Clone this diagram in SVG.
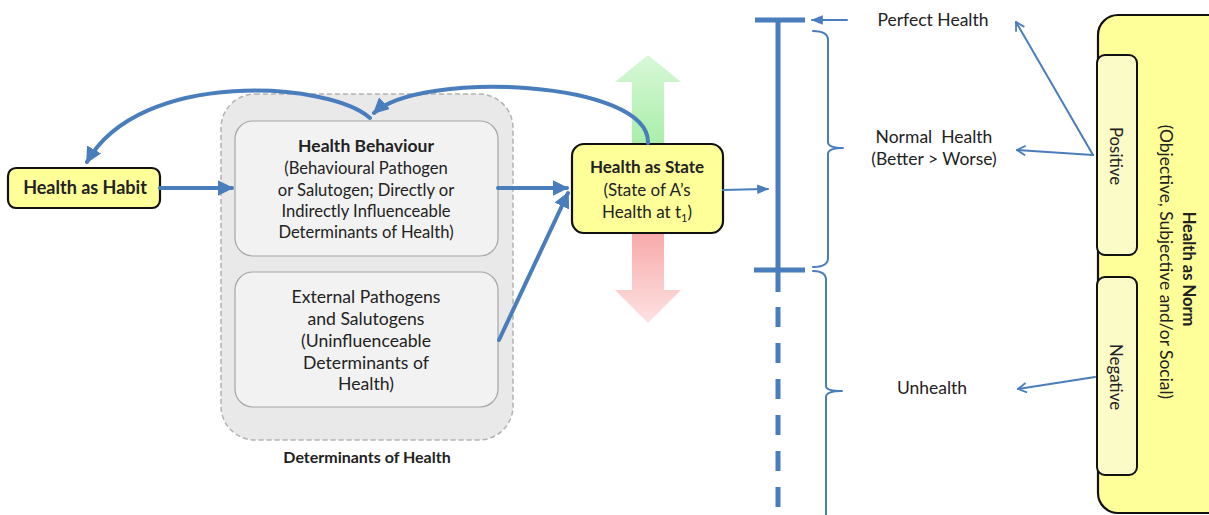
<svg xmlns="http://www.w3.org/2000/svg" width="1209" height="515" viewBox="0 0 1209 515">
  <style>
    text { font-family: Lato, "Liberation Sans", sans-serif; fill: #222; }
    .b { font-weight: bold; }
    .mid { text-anchor: middle; }
    .yellow { fill: #ffff99; stroke: #111; stroke-width: 2.2; }
    .soft { fill: #fbfbc8; stroke: #111; stroke-width: 2; }
    .inner { fill: #f2f2f2; stroke: #a6a6a6; stroke-width: 1.2; }
    .conn { fill: none; stroke: #4a7dbb; stroke-linecap: round; }
    .thick { stroke-width: 4; }
    .thin { stroke-width: 2; }
  </style>
  <defs>
    <marker id="headBig" viewBox="0 0 10 10" refX="9" refY="5" markerWidth="4" markerHeight="4" orient="auto" markerUnits="strokeWidth">
      <path d="M0,0 L10,5 L0,10 z" fill="#4a7dbb"/>
    </marker>
    <marker id="headOpen" viewBox="0 0 10 10" refX="9" refY="5" markerWidth="6" markerHeight="6" orient="auto" markerUnits="strokeWidth">
      <path d="M2,1 L9,5 L2,9" fill="none" stroke="#4a7dbb" stroke-width="1.5"/>
    </marker>
    <marker id="headSmall" viewBox="0 0 10 10" refX="9" refY="5" markerWidth="6" markerHeight="6" orient="auto" markerUnits="strokeWidth">
      <path d="M0,1 L10,5 L0,9 z" fill="#4a7dbb"/>
    </marker>
    <linearGradient id="gUp" x1="0" y1="0" x2="0" y2="1">
      <stop offset="0" stop-color="#d8f8d8"/>
      <stop offset="1" stop-color="#a9eea9"/>
    </linearGradient>
    <linearGradient id="gDown" x1="0" y1="0" x2="0" y2="1">
      <stop offset="0" stop-color="#f8a9a9"/>
      <stop offset="1" stop-color="#fde2e2"/>
    </linearGradient>
  </defs>

  <!-- direction arrows behind the state box -->
  <g id="better-arrow">
    <path d="M632,145 V82 H615 L648,55 L681,82 H664 V145 z" fill="url(#gUp)"/>
  </g>
  <g id="worse-arrow">
    <path d="M632,232 V290 H615 L648,323 L681,290 H664 V232 z" fill="url(#gDown)"/>
  </g>

  <!-- determinants group -->
  <g id="determinants">
    <rect x="221" y="94" width="292" height="346" rx="34" fill="#e9e9e9" stroke="#b3b3b3" stroke-width="1.5" stroke-dasharray="5 3"/>
    <text class="b mid" x="367" y="463" font-size="16">Determinants of Health</text>
  </g>

  <g id="health-behaviour">
    <rect class="inner" x="235" y="121" width="263" height="135" rx="18"/>
    <text class="b mid" x="366" y="152" font-size="17.5">Health Behaviour</text>
    <text class="mid" x="366" y="174" font-size="16.6">(Behavioural Pathogen</text>
    <text class="mid" x="366" y="196" font-size="16.6">or Salutogen; Directly or</text>
    <text class="mid" x="366" y="217" font-size="16.6">Indirectly Influenceable</text>
    <text class="mid" x="366" y="238" font-size="16.6">Determinants of Health)</text>
  </g>

  <g id="external">
    <rect class="inner" x="235" y="272" width="263" height="135" rx="18"/>
    <text class="mid" x="366" y="303" font-size="17.6">External Pathogens</text>
    <text class="mid" x="366" y="325" font-size="17.6">and Salutogens</text>
    <text class="mid" x="366" y="347" font-size="17.6">(Uninfluenceable</text>
    <text class="mid" x="366" y="369" font-size="17.6">Determinants of</text>
    <text class="mid" x="366" y="390" font-size="17.6">Health)</text>
  </g>

  <g id="health-as-habit">
    <rect class="yellow" x="8" y="168" width="152" height="40" rx="8"/>
    <text class="b mid" x="85" y="194" font-size="18">Health as Habit</text>
  </g>

  <g id="health-as-state">
    <rect class="yellow" x="572" y="144" width="151" height="89" rx="12"/>
    <text class="b mid" x="647" y="173" font-size="17">Health as State</text>
    <text class="mid" x="647" y="196" font-size="17">(State of A’s</text>
    <text class="mid" x="647" y="218" font-size="17">Health at t<tspan font-size="11" dy="4">1</tspan><tspan dy="-4">)</tspan></text>
  </g>

  <g id="health-as-norm">
    <rect class="yellow" x="1098" y="15" width="130" height="498" rx="20"/>
    <rect class="soft" x="1097" y="55" width="40" height="200" rx="8"/>
    <rect class="soft" x="1097" y="277" width="40" height="198" rx="8"/>
    <g transform="translate(1116,156) rotate(90)">
      <text class="mid" x="0" y="6" font-size="16.8">Positive</text>
    </g>
    <g transform="translate(1116,377) rotate(90)">
      <text class="mid" x="0" y="6" font-size="16.8">Negative</text>
    </g>
    <g transform="translate(1189,269) rotate(90)">
      <text class="b mid" x="0" y="6" font-size="16.5">Health as Norm</text>
    </g>
    <g transform="translate(1166,262) rotate(90)">
      <text class="mid" x="0" y="6" font-size="17.4">(Objective, Subjective and/or Social)</text>
    </g>
  </g>

  <!-- health scale -->
  <g id="scale">
    <line x1="755" y1="20" x2="805" y2="20" stroke="#4a7dbb" stroke-width="5"/>
    <line x1="778" y1="20" x2="778" y2="292" stroke="#4a7dbb" stroke-width="5"/>
    <line x1="754" y1="270" x2="805" y2="270" stroke="#4a7dbb" stroke-width="5"/>
    <line x1="778" y1="307" x2="778" y2="510" stroke="#4a7dbb" stroke-width="5" stroke-dasharray="20 16"/>
    <path class="conn thin" d="M813,31 Q828,31 828,40 V142 Q828,148 843,148 M843,148 Q828,148 828,154 V258 Q828,267 813,267"/>
    <path class="conn thin" d="M813,271 Q826,271 826,280 V386 Q826,391 842,391 M842,391 Q826,391 826,397 V515"/>
  </g>

  <g id="levels">
    <text class="mid" x="933" y="26" font-size="17.5">Perfect Health</text>
    <text class="mid" x="934" y="143" font-size="17.5" xml:space="preserve">Normal  Health</text>
    <text class="mid" x="934" y="165" font-size="17.5">(Better &gt; Worse)</text>
    <text class="mid" x="932" y="394" font-size="17.5">Unhealth</text>
  </g>

  <!-- connectors -->
  <g id="connectors">
    <path class="conn thick" d="M160,188 H232" marker-end="url(#headBig)"/>
    <path class="conn thick" d="M370,118 C330,82 140,68 87,162" marker-end="url(#headBig)"/>
    <path class="conn thick" d="M648,143 C650,80 420,70 374,113" marker-end="url(#headBig)"/>
    <path class="conn thick" d="M498,188 H567" marker-end="url(#headBig)"/>
    <path class="conn thick" d="M499,340 L568,193" marker-end="url(#headBig)"/>
    <path class="conn thin" d="M723,190 L768,189" marker-end="url(#headSmall)"/>
    <path class="conn thin" d="M847,20 H812" marker-end="url(#headSmall)"/>
    <path class="conn thin" d="M1093,155 L1016,22" marker-end="url(#headOpen)"/>
    <path class="conn thin" d="M1093,155 L1017,150" marker-end="url(#headOpen)"/>
    <path class="conn thin" d="M1095,377 L1018,389" marker-end="url(#headOpen)"/>
  </g>
</svg>
